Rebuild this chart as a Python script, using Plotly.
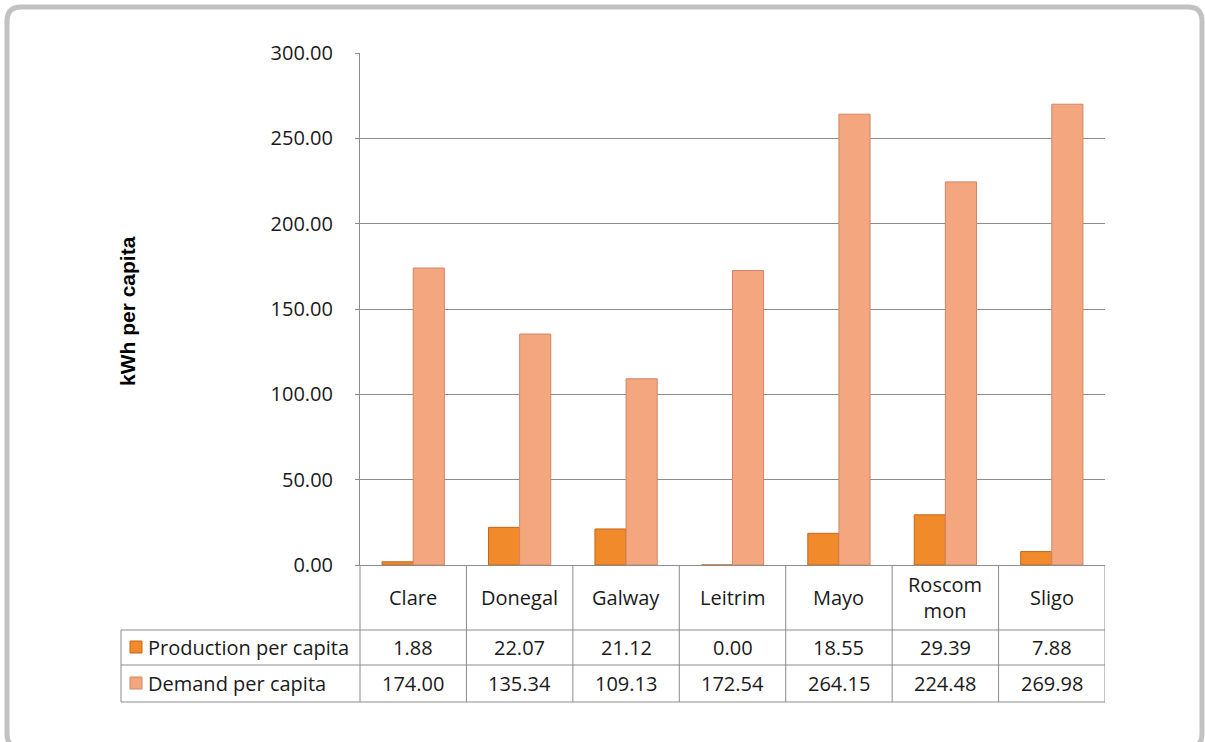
import plotly.graph_objects as go

# ---- data ----
categories = ["Clare", "Donegal", "Galway", "Leitrim", "Mayo", "Roscommon", "Sligo"]
header_labels = ["Clare", "Donegal", "Galway", "Leitrim", "Mayo", "Roscom<br>mon", "Sligo"]
production = [1.88, 22.07, 21.12, 0.00, 18.55, 29.39, 7.88]
demand = [174.00, 135.34, 109.13, 172.54, 264.15, 224.48, 269.98]
series_names = ["Production per capita", "Demand per capita"]
y_title = "kWh per capita"

# ---- layout constants (pixels) ----
W, H = 1205, 742
L, R, T, B = 360, 1105, 53, 565
PW, PH = R - L, B - T

def px(X):
    return (X - L) / PW

def py(Y):
    return (B - Y) / PH

FONT = "'Open Sans', Lato, sans-serif"
FS = 20
TXT = "#1a1a1a"
GRID = "#8c8c8c"
PROD_C = "#f08a2a"
PROD_LINE = "#c4661a"
DEM_C = "#f4a67f"
DEM_LINE = "#d08666"

fig = go.Figure()
fig.add_trace(go.Bar(x=categories, y=production, name=series_names[0],
                     marker=dict(color=PROD_C, line=dict(color=PROD_LINE, width=1))))
fig.add_trace(go.Bar(x=categories, y=demand, name=series_names[1],
                     marker=dict(color=DEM_C, line=dict(color=DEM_LINE, width=1))))

shapes = []
annotations = []

# outer rounded frame
x0, x1, y0, y1, r = px(7), px(1202), py(7), py(748), 14 / PW
ry = 14 / PH
path = (f"M {x0+r},{y0} L {x1-r},{y0} Q {x1},{y0} {x1},{y0-ry} "
        f"L {x1},{y1+ry} Q {x1},{y1} {x1-r},{y1} L {x0+r},{y1} "
        f"Q {x0},{y1} {x0},{y1+ry} L {x0},{y0-ry} Q {x0},{y0} {x0+r},{y0} Z")
shapes.append(dict(type="path", path=path, xref="paper", yref="paper",
                   line=dict(color="#c2c2c2", width=5), layer="below"))

# data table lines
row_tops = [565, 630, 665, 702]
for Y in row_tops[1:]:
    shapes.append(dict(type="line", xref="paper", yref="paper",
                       x0=px(121), x1=1, y0=py(Y), y1=py(Y),
                       line=dict(color=GRID, width=1)))
shapes.append(dict(type="line", xref="paper", yref="paper", x0=px(121), x1=px(121),
                   y0=py(630), y1=py(702), line=dict(color=GRID, width=1)))
shapes.append(dict(type="line", xref="paper", yref="paper", x0=0, x1=0,
                   y0=py(565), y1=py(702), line=dict(color=GRID, width=1)))
for i in range(len(categories)):
    shapes.append(dict(type="line", xref="x", yref="paper", x0=i + 0.5, x1=i + 0.5,
                       y0=py(565), y1=py(702), line=dict(color=GRID, width=1)))

# header labels
for c, lab in zip(categories, header_labels):
    annotations.append(dict(x=c, y=py(597), xref="x", yref="paper", text=lab,
                            showarrow=False, font=dict(size=FS, color=TXT, family=FONT),
                            xanchor="center", yanchor="middle"))

# rows
rows = [(production, PROD_C, PROD_LINE, 647), (demand, DEM_C, DEM_LINE, 683)]
for (vals, col, lcol, Yc), name in zip(rows, series_names):
    shapes.append(dict(type="rect", xref="paper", yref="paper",
                       x0=px(130), x1=px(142), y0=py(Yc - 6), y1=py(Yc + 6),
                       fillcolor=col, line=dict(color=lcol, width=1)))
    annotations.append(dict(x=px(146), y=py(Yc), xref="paper", yref="paper", text=name,
                            showarrow=False, font=dict(size=FS, color=TXT, family=FONT),
                            xanchor="left", yanchor="middle"))
    for c, v in zip(categories, vals):
        annotations.append(dict(x=c, y=py(Yc), xref="x", yref="paper", text=f"{v:.2f}",
                                showarrow=False, font=dict(size=FS, color=TXT, family=FONT),
                                xanchor="center", yanchor="middle"))

# y-axis title
annotations.append(dict(x=px(127), y=py(311), xref="paper", yref="paper", text=f"<b>{y_title}</b>",
                        textangle=-90, showarrow=False,
                        font=dict(size=21, color="#000000", family="Liberation Sans, Arial, sans-serif"),
                        xanchor="center", yanchor="middle"))

fig.update_layout(
    width=W, height=H,
    margin=dict(l=L, r=W - R, t=T, b=H - B, pad=0),
    paper_bgcolor="white", plot_bgcolor="white",
    showlegend=False,
    barmode="group", bargap=0.415, bargroupgap=0,
    shapes=shapes, annotations=annotations,
    font=dict(family=FONT, size=FS, color=TXT),
)
fig.update_xaxes(type="category", showticklabels=False, showline=True, linecolor=GRID,
                 linewidth=1, showgrid=False, ticks="", range=[-0.5, len(categories) - 0.5])
fig.update_yaxes(range=[0, 300], dtick=50, tickformat=".2f", showgrid=True, gridcolor=GRID,
                 gridwidth=1, showline=True, linecolor=GRID, linewidth=1, zeroline=False,
                 ticks="outside", ticklen=4, tickcolor=GRID, ticklabelstandoff=18,
                 tickfont=dict(size=FS, color=TXT, family=FONT))

fig.write_html("out.html", config={"displayModeBar": False},
               post_script="document.body.style.margin='0';document.body.style.overflow='hidden';")
